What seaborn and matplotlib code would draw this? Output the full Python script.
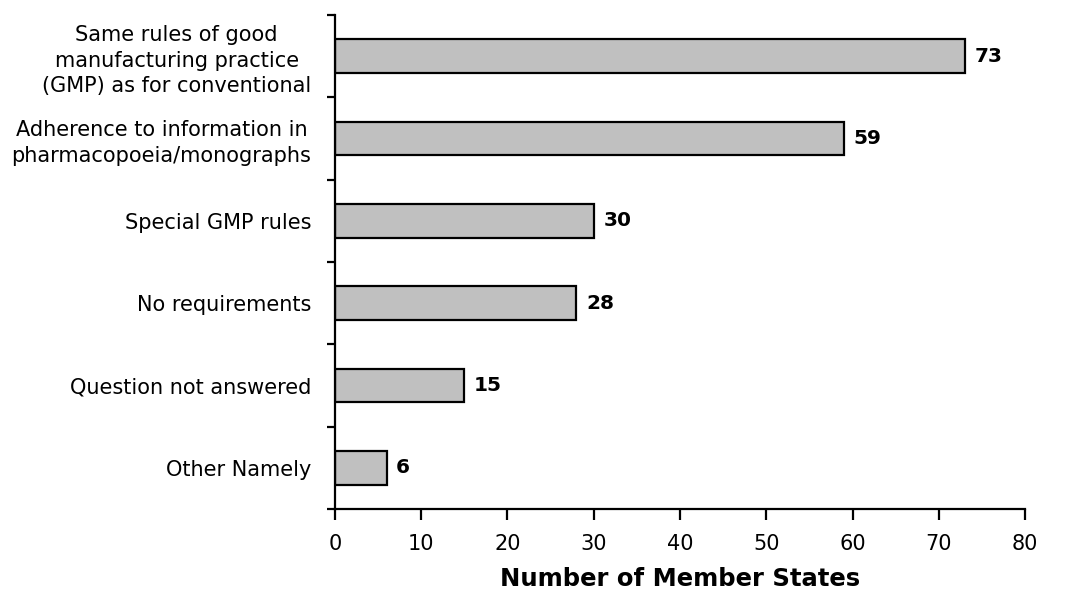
import matplotlib
matplotlib.use("Agg")
import matplotlib.pyplot as plt
import seaborn as sns
import pandas as pd

categories = [
    "Same rules of good\nmanufacturing practice\n(GMP) as for conventional",
    "Adherence to information in\npharmacopoeia/monographs",
    "Special GMP rules",
    "No requirements",
    "Question not answered",
    "Other Namely",
]
counts = [73, 59, 30, 28, 15, 6]
x_ticks = [0, 10, 20, 30, 40, 50, 60, 70, 80]

df = pd.DataFrame({"category": categories, "count": counts})

sns.set_style("white")
plt.rcParams["font.family"] = ["DejaVu Sans"]
plt.rcParams["text.color"] = "black"
plt.rcParams["axes.labelcolor"] = "black"
plt.rcParams["xtick.color"] = "black"
plt.rcParams["ytick.color"] = "black"

fig = plt.figure(figsize=(10.7, 5.94), dpi=100)
ax = fig.add_axes([0.313, 0.143, 0.645, 0.832])

sns.barplot(data=df, y="category", x="count", orient="h", color="#c0c0c0",
            edgecolor="black", linewidth=1.6, width=0.41, ax=ax, saturation=1)

for i, v in enumerate(counts):
    ax.text(v + 1.1, i, str(v), va="center", ha="left", fontsize=14.5,
            fontweight="bold", color="black")

ax.set_xlim(0, 80)
ax.set_ylim(5.5, -0.5)
ax.set_xticks(x_ticks)
ax.set_yticks([i - 0.5 for i in range(7)], minor=False)
ax.set_yticklabels([])
ax.set_yticks(range(6), minor=True)
ax.set_yticklabels(categories, minor=True, fontsize=15, linespacing=1.35,
                   multialignment="center")
ax.tick_params(axis="y", which="minor", length=0, pad=17)
ax.tick_params(axis="y", which="major", direction="out", length=6, width=1.6, left=True)
ax.tick_params(axis="x", direction="out", length=8, width=1.6, labelsize=15, pad=10, bottom=True)

for s in ["top", "right"]:
    ax.spines[s].set_visible(False)
for s in ["left", "bottom"]:
    ax.spines[s].set_linewidth(1.6)
    ax.spines[s].set_color("black")

ax.set_ylabel("")
ax.set_xlabel("Number of Member States", fontsize=17.5, fontweight="bold", labelpad=9)

fig.savefig("out.png", dpi=100)
